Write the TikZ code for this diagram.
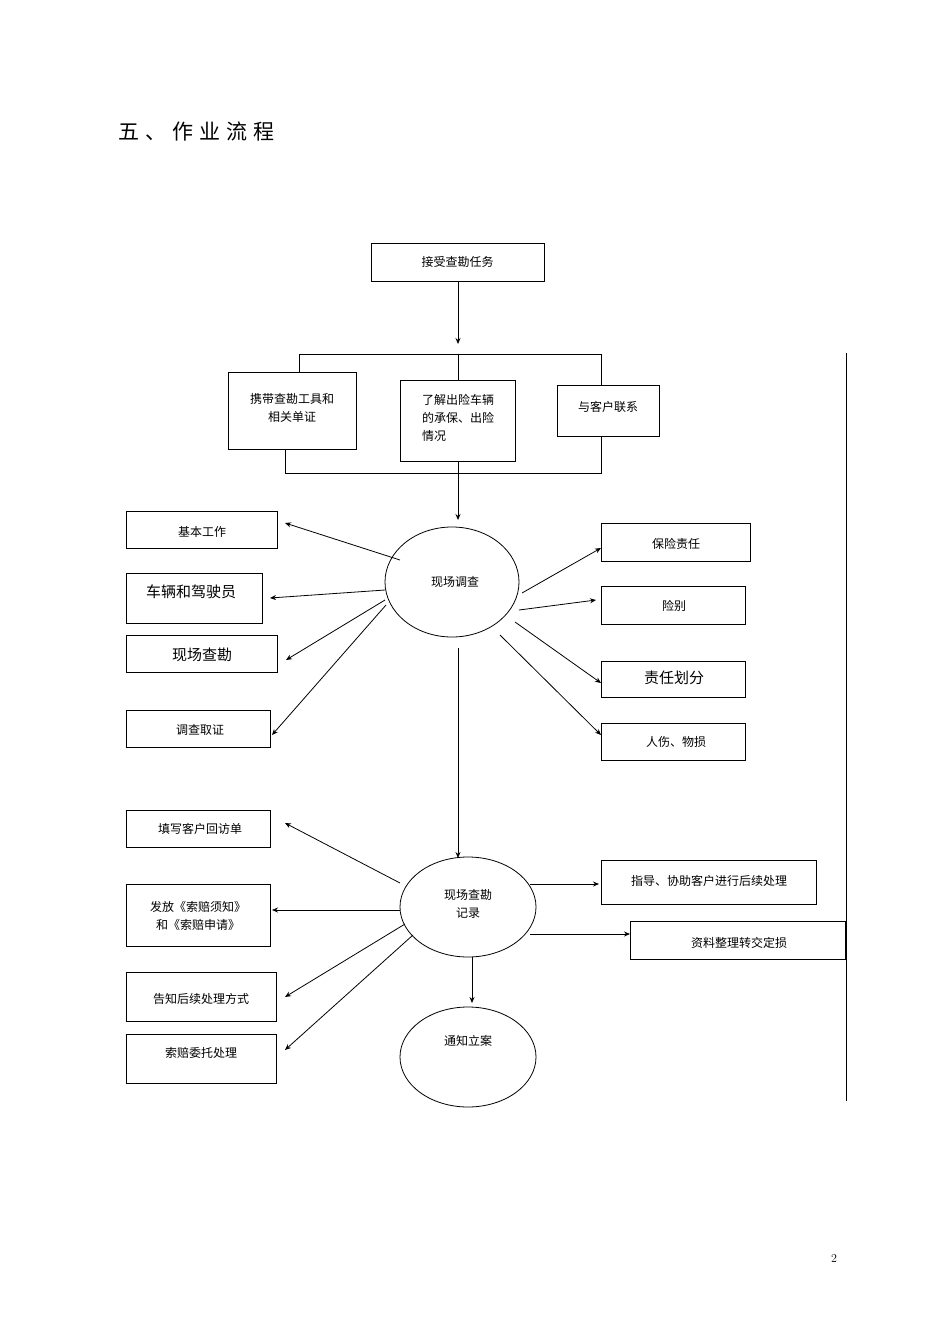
\documentclass[tikz,border=0pt]{standalone}
\usepackage{fontspec}
\newfontfamily\cjk{Noto Sans CJK SC}
\usetikzlibrary{arrows.meta,shapes.geometric}
\begin{document}
\begin{tikzpicture}[x=1pt,y=-1pt,
  bx/.style={draw,line width=0.8pt},
  el/.style={draw,line width=0.8pt,ellipse,inner sep=0pt},
  ar/.style={-{Stealth[length=6pt,width=5pt]},line width=0.8pt},
  ln/.style={line width=0.8pt},
  every node/.style={font=\cjk\fontsize{12}{18}\selectfont}]
\useasboundingbox (0,0) rectangle (950,1344);
\node[anchor=west,font=\cjk\fontsize{21}{24}\selectfont] (title) at (115,132) {五\hspace{6pt}、\hspace{6pt}作\hspace{6pt}业\hspace{6pt}流\hspace{6pt}程};
\node (pg) at (834,1258) {\rmfamily 2};
% top
\draw[bx] (371,243) rectangle (544,281); \node (t) at (457.5,262) {接受查勘任务};
\draw[bx] (228,372) rectangle (356,449); \node[align=center] (b1) at (292,408) {携带查勘工具和\\相关单证};
\draw[bx] (400,380) rectangle (515,461); \node[align=left] (b2) at (458,418) {了解出险车辆\\的承保、出险\\情况};
\draw[bx] (557,385) rectangle (659,436); \node (b3) at (608,407) {与客户联系};
\draw[ar] (458,281) -- (458,344);
\draw[ln] (299,372) -- (299,354) -- (601,354) -- (601,385);
\draw[ln] (458,354) -- (458,380);
\draw[ln] (285,449) -- (285,473) -- (601,473) -- (601,436);
\draw[ar] (458,461) -- (458,520);
% ellipse 1
\node[el,minimum width=134pt,minimum height=110pt] (e1) at (452,582) {};
\node at (455,582) {现场调查};
\draw[bx] (126,511) rectangle (277,548); \node at (202,532) {基本工作};
\draw[bx] (126,573) rectangle (262,623); \node[font=\cjk\fontsize{15}{18}\selectfont] at (191,592) {车辆和驾驶员};
\draw[bx] (126,635) rectangle (277,672); \node[font=\cjk\fontsize{15}{18}\selectfont] at (202,655) {现场查勘};
\draw[bx] (126,710) rectangle (270,747); \node at (200,730) {调查取证};
\draw[ar] (400,560) -- (285,523);
\draw[ar] (385,590) -- (270,598);
\draw[ar] (385,600) -- (286,660);
\draw[ar] (386,605) -- (272,735);
\draw[bx] (601,523) rectangle (750,561); \node at (676,544) {保险责任};
\draw[bx] (601,586) rectangle (745,624); \node at (674,606) {险别};
\draw[bx] (601,661) rectangle (745,697); \node[font=\cjk\fontsize{15}{18}\selectfont] at (674,678) {责任划分};
\draw[bx] (601,723) rectangle (745,760); \node at (676,742) {人伤、物损};
\draw[ar] (522,593) -- (601,548);
\draw[ar] (519,610) -- (596,600);
\draw[ar] (515,622) -- (601,683);
\draw[ar] (500,635) -- (601,735);
\draw[ar] (458,648) -- (458,858);
% ellipse 2
\node[el,minimum width=136pt,minimum height=100pt] (e2) at (468,907) {};
\node[align=center] at (468,904) {现场查勘\\记录};
\draw[bx] (126,810) rectangle (270,847); \node at (200,829) {填写客户回访单};
\draw[bx] (126,884) rectangle (270,946); \node[align=center] at (198,916) {发放《索赔须知》\\和《索赔申请》};
\draw[bx] (126,972) rectangle (276,1021); \node at (201,999) {告知后续处理方式};
\draw[bx] (126,1034) rectangle (276,1083); \node at (201,1053) {索赔委托处理};
\draw[ar] (400,883) -- (285,823);
\draw[ar] (400,910) -- (272,910);
\draw[ar] (405,924) -- (285,997);
\draw[ar] (413,935) -- (285,1050);
\draw[bx] (601,860) rectangle (816,904); \node at (709,881) {指导、协助客户进行后续处理};
\draw[bx] (630,921) rectangle (845,959); \node at (739,943) {资料整理转交定损};
\draw[ar] (530,884) -- (599,884);
\draw[ar] (530,934) -- (630,934);
\draw[ar] (472,957) -- (472,1003);
\node[el,minimum width=136pt,minimum height=100pt] (e3) at (468,1057) {};
\node at (468,1041) {通知立案};
\draw[ln] (846,353) -- (846,1101);
\end{tikzpicture}
\end{document}
